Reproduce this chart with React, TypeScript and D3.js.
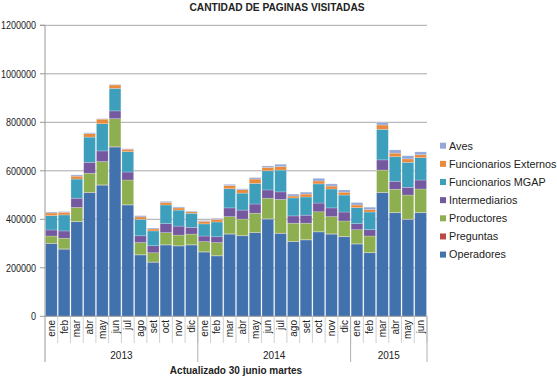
import React from "react";
import * as d3 from "d3";

const months = ["ene","feb","mar","abr","may","jun","jul","ago","set","oct","nov","dic","ene","feb","mar","abr","may","jun","jul","ago","set","oct","nov","dic","ene","feb","mar","abr","may","jun"];
const years = [
  { label: "2013", count: 12 },
  { label: "2014", count: 12 },
  { label: "2015", count: 6 },
];
const seriesNames = ["Operadores","Preguntas","Productores","Intermediarios","Funcionarios MGAP","Funcionarios Externos","Aves"];
const seriesColors = ["#4272AD","#B94A48","#8DAF4F","#7559A0","#3E9FBC","#E88B3E","#94A8D8"];

const operadores = [300,277,390,510,541,698,459,253,223,294,290,294,265,249,339,332,345,401,342,308,315,348,339,328,298,262,510,427,400,427];
const preguntas = [1,1,1,1,1,1,1,1,1,1,1,1,1,1,1,1,1,1,1,1,1,1,1,1,1,1,1,1,1,1];
const productores = [30,44,58,79,96,116,102,50,38,50,44,44,42,54,71,68,79,85,139,75,68,82,71,64,58,68,92,96,99,97];
const intermediarios = [25,30,38,45,44,32,33,28,29,37,37,28,23,24,36,37,38,34,31,30,33,36,36,37,25,26,42,33,32,37];
const funcMGAP = [59,66,79,104,112,93,84,68,61,77,66,58,50,61,79,70,85,79,90,74,75,79,78,70,66,73,126,101,103,92];
const funcExternos = [11,11,12,14,19,14,10,10,8,11,9,6,11,11,13,14,18,14,14,8,12,12,12,12,11,10,18,15,14,12];
const aves = [4,3,5,4,2,2,2,5,4,4,4,3,3,4,5,4,6,6,10,8,8,11,9,9,10,10,11,13,13,12];
const yTicks = [0,200000,400000,600000,800000,1000000,1200000];

const seriesData = [operadores, preguntas, productores, intermediarios, funcMGAP, funcExternos, aves];

export default function App() {
  const W = 557, H = 377;
  const left = 45, right = 427, top = 25.3, bottom = 316.3;
  const keys = seriesNames;
  const rows = months.map((m, i) => {
    const r: any = { idx: i };
    keys.forEach((k, s) => { r[k] = seriesData[s][i] * 1000; });
    return r;
  });
  const stack = d3.stack<any>().keys(keys)(rows);
  const x = d3.scaleBand<number>().domain(months.map((_, i) => i)).range([left, right]).paddingInner(0.08).paddingOuter(0.04);
  const step = (right - left) / months.length;
  const y = d3.scaleLinear().domain([0, 1200000]).range([bottom, top]);
  const font = "'Liberation Sans', Arial, sans-serif";

  let acc = 0;
  const yearBounds = years.map((g) => {
    const start = acc;
    acc += g.count;
    return { ...g, start, end: acc };
  });

  const legendOrder = [...keys.map((k, i) => ({ k, c: seriesColors[i] }))].reverse();

  return (
    <svg width={W} height={H} style={{ position: "absolute", left: 0, top: 0, background: "#fff" }}>
      <rect x={0} y={0} width={W} height={H} fill="#fff" />
      <text x={277} y={11} textAnchor="middle" fontFamily={font} fontWeight="bold" fontSize={10.2} fill="#222">
        CANTIDAD DE PAGINAS VISITADAS
      </text>
      {yTicks.map((t) => (
        <g key={t}>
          {t > 0 && <line x1={left} x2={right} y1={y(t)} y2={y(t)} stroke="#A8A8A8" strokeWidth={1} />}
          <text x={36} y={y(t) + 3.8} textAnchor="end" fontFamily={font} fontSize={10.5} fill="#222"
            transform={`translate(${36},0) scale(0.86,1) translate(${-36},0)`}>
            {t}
          </text>
        </g>
      ))}
      <line x1={left - 5} x2={left} y1={top} y2={top} stroke="#999" />
      {yTicks.map((t) => (
        <line key={"tk" + t} x1={left - 5} x2={left} y1={y(t)} y2={y(t)} stroke="#999" />
      ))}
      {stack.map((layer, s) => (
        <g key={layer.key}>
          {layer.map((d, i) => (
            <rect key={i} x={x(i)} width={x.bandwidth()} y={y(d[1])} height={Math.max(0, y(d[0]) - y(d[1]))}
              fill={seriesColors[s]} stroke="#ffffff" strokeOpacity={0.35} strokeWidth={0.6} />
          ))}
        </g>
      ))}
      <line x1={left} x2={left} y1={top} y2={362} stroke="#999" />
      <line x1={left} x2={right} y1={bottom} y2={bottom} stroke="#999" />
      {months.map((m, i) => (
        <g key={"m" + i}>
          <line x1={left + (i + 1) * step} x2={left + (i + 1) * step} y1={bottom} y2={343} stroke="#D0D0D0" />
          <text transform={`translate(${left + (i + 0.5) * step + 3.5},${320}) rotate(-90)`} textAnchor="end"
            fontFamily={font} fontSize={10} fill="#222">{m}</text>
        </g>
      ))}
      {yearBounds.map((g) => (
        <g key={g.label}>
          <line x1={left + g.end * step} x2={left + g.end * step} y1={bottom} y2={362} stroke="#B0B0B0" />
          <text x={left + ((g.start + g.end) / 2) * step} y={359} textAnchor="middle" fontFamily={font} fontSize={10} fill="#222">
            {g.label}
          </text>
        </g>
      ))}
      <text x={236} y={373.5} textAnchor="middle" fontFamily={font} fontWeight="bold" fontSize={10} fill="#222">
        Actualizado 30 junio martes
      </text>
      {legendOrder.map((item, i) => (
        <g key={item.k} transform={`translate(440,${145.7 + i * 18.15})`}>
          <rect x={0} y={-3} width={6} height={6} fill={item.c} />
          <text x={9} y={3.8} fontFamily={font} fontSize={10.8} fill="#222">{item.k}</text>
        </g>
      ))}
    </svg>
  );
}
